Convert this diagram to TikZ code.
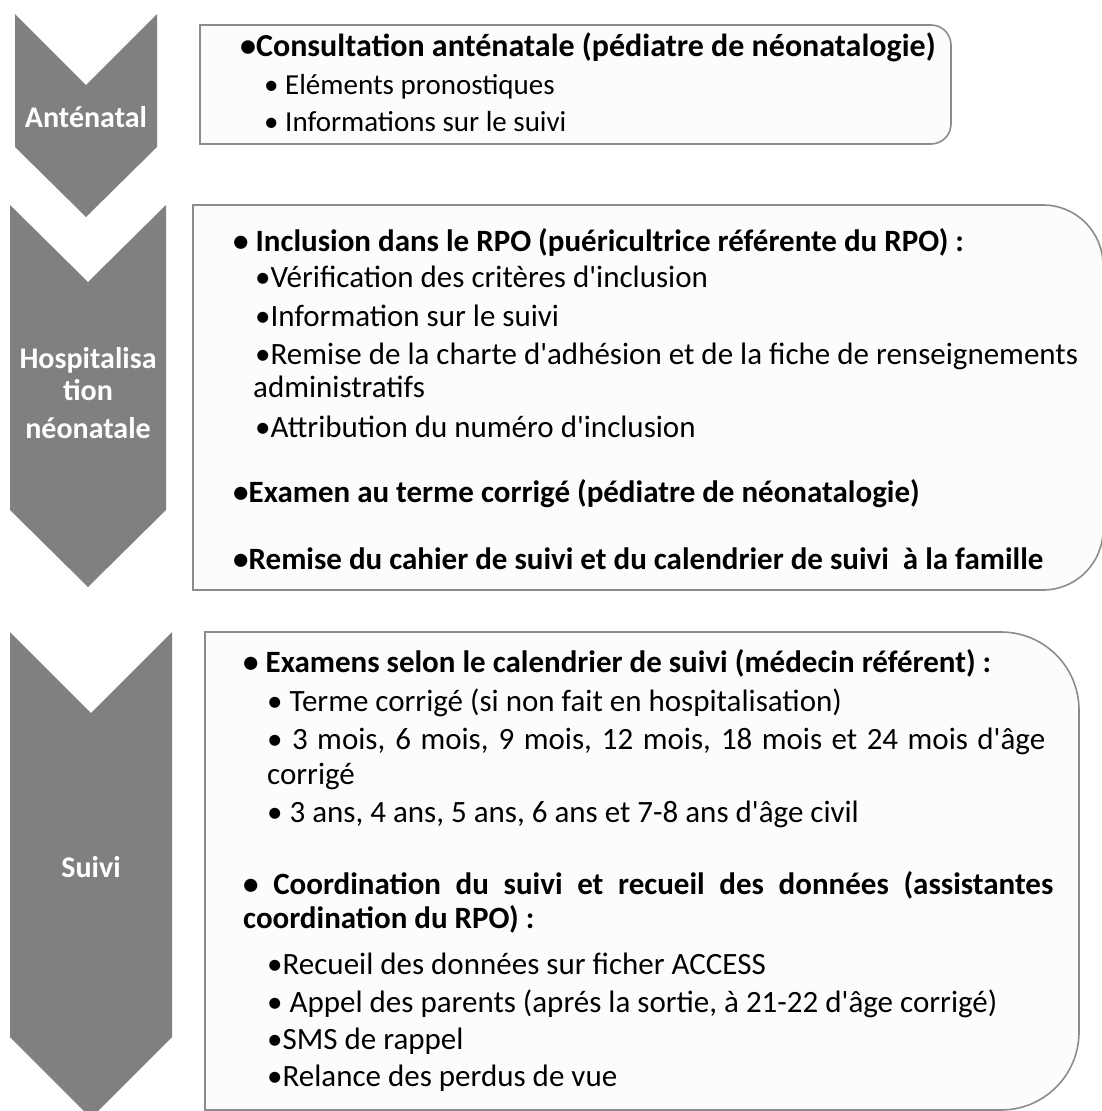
\documentclass[tikz,border=0pt]{standalone}
\usepackage{fontspec}
\setmainfont{Carlito}[Ligatures=TeXOff]
\usetikzlibrary{positioning}
\definecolor{chevgray}{HTML}{808080}
\definecolor{boxline}{HTML}{8C8C8C}
\definecolor{boxfill}{HTML}{FCFCFC}
\tikzset{
  chevron/.style={fill=chevgray, draw=none},
  phase/.style={text=white, font=\fontsize{30}{32}\selectfont\bfseries, align=center, inner sep=0},
  infobox/.style={draw=boxline, fill=boxfill, line width=1.6pt},
  lineitem/.style={anchor=base west, inner sep=0, font=\fontsize{31}{33}\selectfont},
  linehead/.style={lineitem, font=\fontsize{31}{33}\selectfont\bfseries},
  smallitem/.style={lineitem, font=\fontsize{29}{31}\selectfont}
}

\begin{document}
\begin{tikzpicture}[x=1pt,y=-1pt]
  \useasboundingbox (0,0) rectangle (1102,1111);

  % Chevrons
  \fill[chevron] (15,14) -- (86,85) -- (157,14) -- (157,147) -- (86,217) -- (15,147) -- cycle;
  \fill[chevron] (10,205) -- (88,282) -- (166,205) -- (166,510) -- (88,587) -- (10,510) -- cycle;
  \fill[chevron] (10,632) -- (91,713) -- (172,632) -- (172,1037) -- (91,1118) -- (10,1037) -- cycle;

  \node[phase] (ante) at (86,117) {Anténatal};
  \node[phase] (hosp) at (88,393) {Hospitalisa\\tion\\[6pt]néonatale};
  \node[phase] (suivi) at (91,867) {Suivi};

  % Boxes (square on the left, rounded on the right)
  \draw[infobox] (200,25) -- (931,25) arc[start angle=-90,end angle=0,radius=20]
    -- (951,124) arc[start angle=0,end angle=90,radius=20] -- (200,144) -- cycle;
  \draw[infobox] (193,205) -- (1043,205) arc[start angle=-90,end angle=0,radius=60]
    -- (1103,530) arc[start angle=0,end angle=90,radius=60] -- (193,590) -- cycle;
  \draw[infobox] (205,632) -- (1001,632) arc[start angle=-90,end angle=0,radius=78]
    -- (1079,1032) arc[start angle=0,end angle=90,radius=78] -- (205,1110) -- cycle;

  % Antenatal
  \node[linehead, font=\fontsize{32}{34}\selectfont\bfseries] (cons) at (240,56) {•Consultation anténatale (pédiatre de néonatalogie)};
  \node[smallitem] (elem) at (264,94) {• Eléments pronostiques};
  \node[smallitem] (info) at (264,131) {• Informations sur le suivi};

  % Hospitalisation
  \node[linehead] (incl) at (233,251) {• Inclusion dans le RPO (puéricultrice référente du RPO) :};
  \node[lineitem] (verif) at (255,287) {•Vérification des critères d'inclusion};
  \node[lineitem] (infos) at (255,326) {•Information sur le suivi};
  \node[lineitem] (charte) at (255,364) {•Remise de la charte d'adhésion et de la fiche de renseignements};
  \node[lineitem] (admin) at (253,397) {administratifs};
  \node[lineitem] (attr) at (255,437) {•Attribution du numéro d'inclusion};
  \node[linehead] (exam) at (233,502) {•Examen au terme corrigé (pédiatre de néonatalogie)};
  \node[linehead] (cahier) at (233,569) {•Remise du cahier de suivi et du calendrier de suivi\ \ à la famille};

  % Suivi
  \node[linehead] (calend) at (243,672) {• Examens selon le calendrier de suivi (médecin référent) :};
  \node[lineitem] (terme) at (267,711) {• Terme corrigé (si non fait en hospitalisation)};
  \node[lineitem] (mois) at (267,749) {\makebox[778pt][s]{• 3 mois, 6 mois, 9 mois, 12 mois, 18 mois et 24 mois d'âge}};
  \node[lineitem] (corr) at (267,784) {corrigé};
  \node[lineitem] (ans) at (267,822) {• 3 ans, 4 ans, 5 ans, 6 ans et 7-8 ans d'âge civil};
  \node[linehead] (coord) at (243,894) {\makebox[810pt][s]{• Coordination du suivi et recueil des données (assistantes}};
  \node[linehead] (rpo) at (243,928) {coordination du RPO) :};
  \node[lineitem] (recueil) at (267,974) {•Recueil des données sur ficher ACCESS};
  \node[lineitem] (appel) at (267,1012) {• Appel des parents (aprés la sortie, à 21-22 d'âge corrigé)};
  \node[lineitem] (sms) at (267,1049) {•SMS de rappel};
  \node[lineitem] (relance) at (267,1086) {•Relance des perdus de vue};
\end{tikzpicture}
\end{document}
